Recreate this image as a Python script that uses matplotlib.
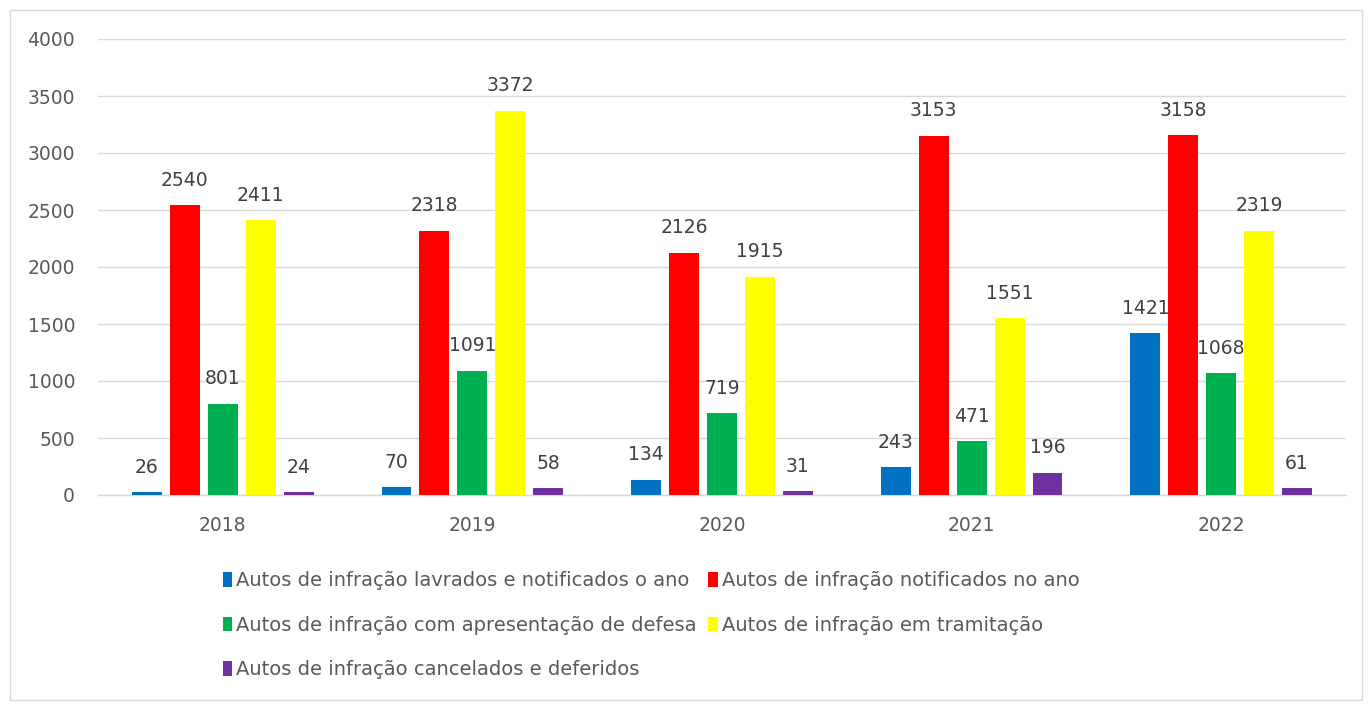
import matplotlib
matplotlib.use("Agg")
import matplotlib.pyplot as plt
import numpy as np
from matplotlib.patches import Rectangle

years = ["2018", "2019", "2020", "2021", "2022"]
series_names = [
    "Autos de infração lavrados e notificados o ano",
    "Autos de infração notificados no ano",
    "Autos de infração com apresentação de defesa",
    "Autos de infração em tramitação",
    "Autos de infração cancelados e deferidos",
]
lavrados = [26, 70, 134, 243, 1421]
notificados = [2540, 2318, 2126, 3153, 3158]
defesa = [801, 1091, 719, 471, 1068]
tramitacao = [2411, 3372, 1915, 1551, 2319]
cancelados = [24, 58, 31, 196, 61]
values = [lavrados, notificados, defesa, tramitacao, cancelados]
colors = ["#0070C0", "#FF0000", "#00B050", "#FFFF00", "#7030A0"]

plt.rcParams['font.family'] = ['DejaVu Sans']
fig = plt.figure(figsize=(13.72, 7.04), dpi=100)
ax = fig.add_axes([98/1372, 1-495/704, 1248/1372, 456/704])

x = np.arange(len(years))
w = 0.12
pitch = 0.152
handles = []
for i, (vals, c) in enumerate(zip(values, colors)):
    pos = x + (i - 2) * pitch
    b = ax.bar(pos, vals, width=w, color=c, label=series_names[i], zorder=3)
    handles.append(b)
    for px, v in zip(pos, vals):
        ax.annotate(str(v), (px, v), xytext=(0, 11), textcoords="offset points",
                    ha="center", va="bottom", fontsize=13.5, color="#404040")

ax.set_xlim(-0.5, 4.5)
ax.set_ylim(0, 4000)
ax.set_yticks(range(0, 4001, 500))
ax.set_xticks(x)
ax.set_xticklabels(years)
ax.tick_params(axis='both', length=0, labelsize=13.5, colors="#595959")
ax.tick_params(axis='y', pad=16.5)
ax.tick_params(axis='x', pad=15)
ax.grid(axis='y', color="#D9D9D9", linewidth=1, zorder=0)
for s in ["top", "right", "left"]:
    ax.spines[s].set_visible(False)
ax.spines["bottom"].set_color("#D9D9D9")
ax.spines["bottom"].set_linewidth(1)

order = [0, 2, 4, 1, 3]
leg = fig.legend([handles[i] for i in order], [series_names[i] for i in order],
                 ncol=2, loc="upper left", bbox_to_anchor=(205/1372, 1-554/704),
                 frameon=False, fontsize=14, handlelength=0.5, handleheight=0.8,
                 handletextpad=0.2, columnspacing=0.6, labelspacing=1.3,
                 labelcolor="#595959")

fig.patches.append(Rectangle((10/1372, 4/704), 1352/1372, 690/704, transform=fig.transFigure,
                             fill=False, edgecolor="#D9D9D9", linewidth=1))
fig.savefig("out.png", dpi=100)
